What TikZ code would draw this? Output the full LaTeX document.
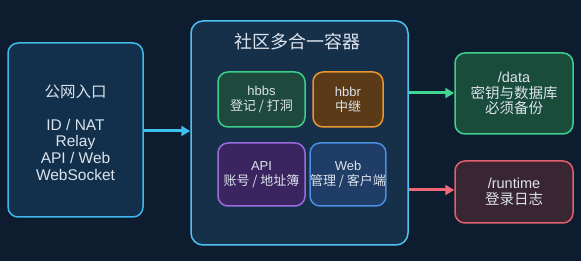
\documentclass[tikz,border=0pt]{standalone}
\usepackage{fontspec}
\setmainfont{Liberation Sans}
\newfontfamily\cjk{Noto Sans CJK SC}
\usetikzlibrary{arrows.meta}
\definecolor{bgc}{HTML}{0E1C2F}
\definecolor{txt}{HTML}{DCE3EC}
\definecolor{leftfill}{HTML}{12304B}
\definecolor{leftdraw}{HTML}{3FB8EA}
\definecolor{contfill}{HTML}{17304A}
\definecolor{contdraw}{HTML}{4CC3F5}
\definecolor{sfill}{HTML}{1D4A3C}
\definecolor{sdraw}{HTML}{3DCF8A}
\definecolor{rfill}{HTML}{5B3A17}
\definecolor{rdraw}{HTML}{E8962D}
\definecolor{afill}{HTML}{3A2560}
\definecolor{adraw}{HTML}{9B6BE0}
\definecolor{wfill}{HTML}{1F3D66}
\definecolor{wdraw}{HTML}{4A8FE0}
\definecolor{dfill}{HTML}{1A4C3C}
\definecolor{ddraw}{HTML}{3FD08F}
\definecolor{rtfill}{HTML}{3A2532}
\definecolor{rtdraw}{HTML}{E0606E}
\definecolor{garrow}{HTML}{3ED690}
\definecolor{rarrow}{HTML}{F06878}
\definecolor{barrow}{HTML}{3FC0F0}
\tikzset{
  box/.style={rounded corners=10pt, line width=1.5pt, inner sep=0pt, text=txt, align=center},
  conn/.style={line width=3pt, -{Triangle[length=9pt,width=10pt]}},
}
\begin{document}
\begin{tikzpicture}[x=1pt,y=-1pt]
\fill[bgc] (0,0) rectangle (581,261);
\useasboundingbox (0,0) rectangle (581,261);
% left box
\node[box, draw=leftdraw, fill=leftfill, minimum width=135pt, minimum height=174pt] (pub) at (75.5,130) {};
\node[text=txt, align=center, font=\fontsize{15.5}{16.6}\selectfont] (pubt) at (75.5,132.3)
  {{\cjk 公网入口}\\[16.6pt]ID / NAT\\Relay\\API / Web\\WebSocket};
% container
\node[box, rounded corners=12pt, draw=contdraw, fill=contfill, minimum width=217pt, minimum height=224pt] (cont) at (299.5,133) {};
\node[text=txt, font=\cjk\fontsize{18}{20}\selectfont] (title) at (297,42) {社区多合一容器};
% inner
\node[box, draw=sdraw, fill=sfill, minimum width=87pt, minimum height=55pt, font=\fontsize{13}{15}\selectfont] (hbbs) at (261.5,99.5) {hbbs\\{\cjk 登记 / 打洞}};
\node[box, draw=rdraw, fill=rfill, minimum width=70pt, minimum height=55pt, font=\fontsize{13}{15}\selectfont] (hbbr) at (348,99.5) {hbbr\\{\cjk 中继}};
\node[box, draw=adraw, fill=afill, minimum width=87pt, minimum height=63pt, font=\fontsize{13}{15}\selectfont] (api) at (261.5,174.5) {API\\{\cjk 账号 / 地址簿}};
\node[box, draw=wdraw, fill=wfill, minimum width=70pt, minimum height=63pt, font=\fontsize{13}{15}\selectfont] (web) at (348,174.5) {Web\\{\cjk 管理 / 客户端}};
% right
\node[box, draw=ddraw, fill=dfill, minimum width=118pt, minimum height=81pt, font=\fontsize{14.5}{15.5}\selectfont] (data) at (514,93.5) {/data\\{\cjk 密钥与数据库}\\{\cjk 必须备份}};
\node[box, draw=rtdraw, fill=rtfill, minimum width=118pt, minimum height=62pt, font=\fontsize{14.5}{16}\selectfont] (rt) at (514,192) {/runtime\\{\cjk 登录日志}};
% arrows
\draw[conn, barrow] (pub.east |- 0,131) -- (cont.west |- 0,131);
\draw[conn, garrow] (cont.east |- 0,93) -- (data.west |- 0,93);
\draw[conn, rarrow] (cont.east |- 0,190) -- (rt.west |- 0,190);
\end{tikzpicture}
\end{document}
